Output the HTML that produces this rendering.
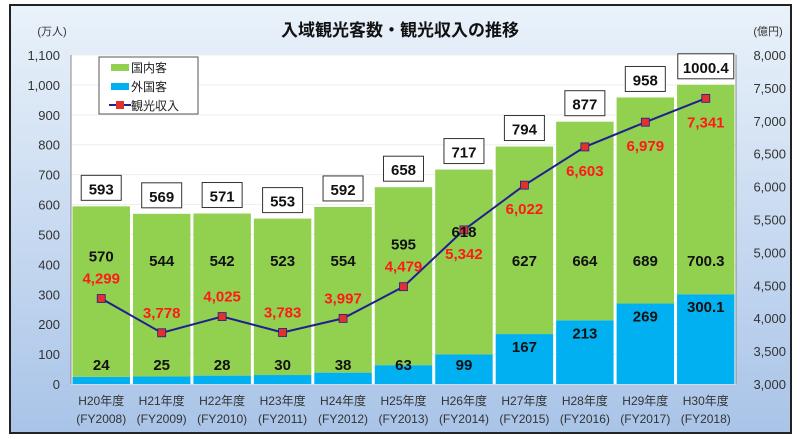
<!DOCTYPE html>
<html><head><meta charset="utf-8"><style>
body{margin:0;width:800px;height:439px;background:#fff;overflow:hidden}
svg{display:block;font-family:"Liberation Sans","Noto Sans CJK JP",sans-serif}
</style></head><body>
<svg id="c" width="800" height="439">
<defs><linearGradient id="bg" x1="0" y1="0" x2="0" y2="1"><stop offset="0" stop-color="#eaf2fa"/><stop offset="1" stop-color="#a9c4e8"/></linearGradient></defs>
<rect x="10" y="5" width="781" height="428" fill="url(#bg)" stroke="#222" stroke-width="2"/>
<rect x="71" y="55" width="665" height="329" fill="#fff"/>
<text x="400" y="36" text-anchor="middle" font-size="17" font-weight="bold" fill="#111">入域観光客数・観光収入の推移</text>
<text x="52" y="35" text-anchor="middle" font-size="11" fill="#333">(万人)</text>
<text x="768" y="35" text-anchor="middle" font-size="11" fill="#333">(億円)</text>
<g id="grid"></g><g id="bars"></g><g id="line"></g><g id="labels"></g><g id="axes"></g>
<g>
<rect x="99" y="57" width="99" height="57" fill="#fff" stroke="#555"/>
<rect x="111" y="64" width="18" height="7" fill="#92d050"/>
<text x="131" y="72" font-size="12" fill="#222">国内客</text>
<rect x="111" y="83" width="18" height="7" fill="#00b0f0"/>
<text x="131" y="91" font-size="12" fill="#222">外国客</text>
<line x1="109" y1="105" x2="131" y2="105" stroke="#1f1f8f" stroke-width="2"/>
<rect x="116" y="101" width="8" height="8" fill="#e03030"/>
<text x="131" y="110" font-size="12" fill="#222">観光収入</text>
</g>
</svg>
<script>
const categories=["H20年度","H21年度","H22年度","H23年度","H24年度","H25年度","H26年度","H27年度","H28年度","H29年度","H30年度"];
const fiscalYears=["(FY2008)","(FY2009)","(FY2010)","(FY2011)","(FY2012)","(FY2013)","(FY2014)","(FY2015)","(FY2016)","(FY2017)","(FY2018)"];
const domestic=[570,544,542,523,554,595,618,627,664,689,700.3];
const foreign=[24,25,28,30,38,63,99,167,213,269,300.1];
const totals=["593","569","571","553","592","658","717","794","877","958","1000.4"];
const revenue=[4299,3778,4025,3783,3997,4479,5342,6022,6603,6979,7341];
const leftTicks=[0,100,200,300,400,500,600,700,800,900,1000,1100];
const rightTicks=[3000,3500,4000,4500,5000,5500,6000,6500,7000,7500,8000];
const NS="http://www.w3.org/2000/svg";
const X0=71,X1=736,Y0=384,Y1=55,cw=(X1-X0)/categories.length;
const yL=v=>Y0-(v/1100)*(Y0-Y1);
const yR=v=>Y0-((v-3000)/5000)*(Y0-Y1);
const xc=i=>X0+cw*(i+0.5);
function mk(tag,attrs,parent,txt){const e=document.createElementNS(NS,tag);for(const k in attrs)e.setAttribute(k,attrs[k]);if(txt!==undefined)e.textContent=txt;document.getElementById(parent).appendChild(e);return e;}
const fmt=v=>v.toLocaleString("en-US");
leftTicks.forEach(t=>{
 const g=mk("line",{x1:X0,x2:X1,y1:yL(t),y2:yL(t),stroke:"#eee"},"grid");
 
 
 const l=mk("text",{x:60,y:yL(t)+5,"text-anchor":"end","font-size":"13",fill:"#333"},"axes",fmt(t));
 
 
});
rightTicks.forEach(t=>{
 const l=mk("text",{x:786,y:yR(t)+5,"text-anchor":"end","font-size":"13",fill:"#333"},"axes",fmt(t));
 
 
});
mk("line",{x1:X0,x2:X0,y1:Y1,y2:Y0,stroke:"#888"},"axes");
mk("line",{x1:X1,x2:X1,y1:Y1,y2:Y0,stroke:"#888"},"axes");
categories.forEach((c,i)=>{
 const x=X0+cw*i+1.5,w=cw-3;
 const fTop=yL(foreign[i]),dTop=yL(foreign[i]+domestic[i]);
 const b1=mk("rect",{x:x,y:fTop,width:w,height:Y0-fTop,fill:"#00b0f0"},"bars");
 
 
 const b2=mk("rect",{x:x,y:dTop,width:w,height:fTop-dTop,fill:"#92d050"},"bars");
 
 
 const cx=xc(i);
 const t1=mk("text",{x:cx,y:Math.min(fTop+18,370),"text-anchor":"middle","font-size":"15","font-weight":"bold",fill:"#111"},"labels",String(foreign[i]));
 
 
 const ry=yR(revenue[i]);
 const revY=i<6?ry-15:ry+29;
 let dy=Y0-118;
 if(Math.abs(dy-revY)<20) dy=revY-22;
 dy=Math.max(dy,dTop+42);
 const t2=mk("text",{x:cx,y:dy,"text-anchor":"middle","font-size":"15","font-weight":"bold",fill:"#111"},"labels",String(domestic[i]));
 
 
 const bw=totals[i].length>4?56:40;
 const bx=mk("rect",{x:cx-bw/2,y:dTop-31,width:bw,height:25,fill:"#fff",stroke:"#333"},"labels");
 
 
 const t3=mk("text",{x:cx,y:dTop-12,"text-anchor":"middle","font-size":"15","font-weight":"bold",fill:"#111"},"labels",totals[i]);
 
 
 const t4=mk("text",{x:cx,y:revY,"text-anchor":"middle","font-size":"15","font-weight":"bold",fill:"#ff1a1a"},"labels",fmt(revenue[i]));
 
 
 const a1=mk("text",{x:cx,y:405,"text-anchor":"middle","font-size":"12",fill:"#333"},"axes",c);
 
 
 const a2=mk("text",{x:cx,y:423,"text-anchor":"middle","font-size":"12",fill:"#333"},"axes",fiscalYears[i]);
 
 
});
const pl=mk("polyline",{points:revenue.map((v,i)=>xc(i)+","+yR(v)).join(" "),fill:"none",stroke:"#1f1f8f","stroke-width":"2"},"line");


revenue.forEach((v,i)=>{
 const m=mk("rect",{x:xc(i)-4,y:yR(v)-4,width:8,height:8,fill:"#e03030",stroke:"#1f1f8f","stroke-width":"0.8"},"line");
 
 
});
</script>
</body></html>
